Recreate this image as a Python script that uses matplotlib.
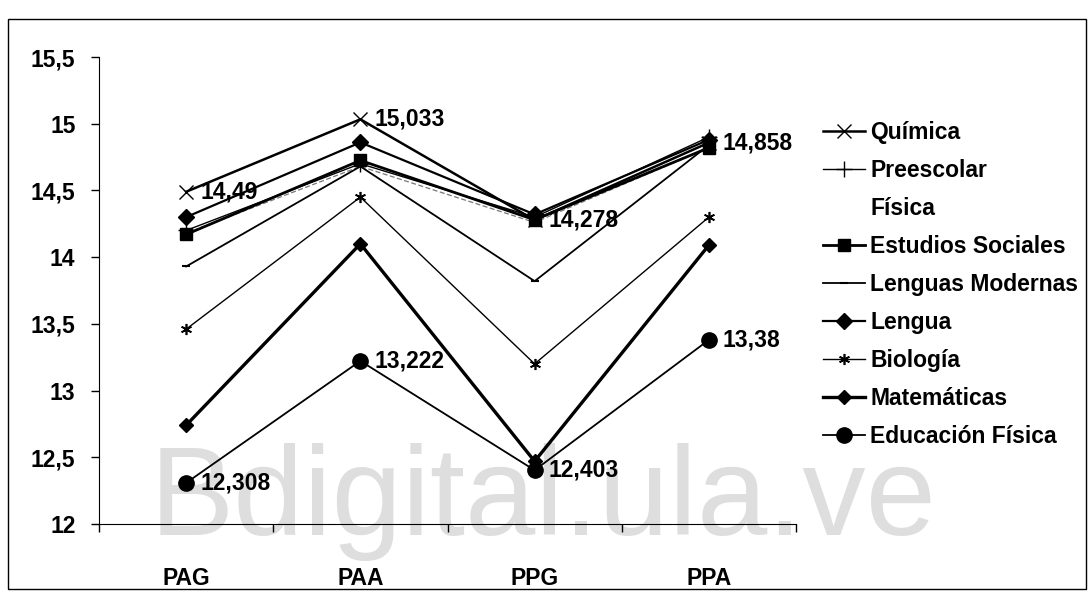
import matplotlib.pyplot as plt
import matplotlib.ticker as mticker
from matplotlib.patches import Rectangle

plt.rcParams['font.family'] = ['Liberation Sans', 'DejaVu Sans']

periodos = ["PAG", "PAA", "PPG", "PPA"]

quimica = [14.49, 15.033, 14.278, 14.858]
preescolar = [14.20, 14.70, 14.30, 14.90]
fisica = [14.18, 14.68, 14.26, 14.82]
estudios_sociales = [14.17, 14.725, 14.28, 14.82]
lenguas_modernas = [13.93, 14.68, 13.82, 14.84]
lengua = [14.30, 14.86, 14.32, 14.88]
biologia = [13.46, 14.45, 13.20, 14.30]
matematicas = [12.74, 14.10, 12.47, 14.09]
educacion_fisica = [12.308, 13.222, 12.403, 13.38]

# series that carry value labels next to their points
etiquetas_quimica = ["14,49", "15,033", "14,278", "14,858"]
etiquetas_edfisica = ["12,308", "13,222", "12,403", "13,38"]

x = list(range(len(periodos)))
fs = 16.5

fig = plt.figure(figsize=(10.91, 5.92), dpi=100)
ax = fig.add_axes([99 / 1091, 1 - 524 / 592, (796 - 99) / 1091, (524 - 57) / 592])

# watermark, kept under the lines
ax.text(150 / 1091, 1 - 535 / 592, "Bdigital.ula.ve", fontsize=91, color="#dedede",
        ha="left", va="baseline", transform=fig.transFigure, clip_on=False, zorder=0)

series = [
    ("Química", quimica, dict(marker="x", ms=10, mew=1.0, lw=1.8)),
    ("Preescolar", preescolar, dict(marker="+", ms=12, mew=1.0, lw=1.0)),
    ("Física", fisica, dict(marker="", lw=0.9, ls=(0, (4, 2)), color="#777777")),
    ("Estudios Sociales", estudios_sociales, dict(marker="s", ms=9, lw=2.0)),
    ("Lenguas Modernas", lenguas_modernas, dict(marker="_", ms=6, mew=1.5, lw=1.3)),
    ("Lengua", lengua, dict(marker="D", ms=8, lw=1.6)),
    ("Biología", biologia, dict(marker=(6, 2, 0), ms=8, mew=1.2, lw=1.0)),
    ("Matemáticas", matematicas, dict(marker="D", ms=7, lw=2.4)),
    ("Educación Física", educacion_fisica, dict(marker="o", ms=11, lw=1.3)),
]

for nombre, valores, estilo in series:
    estilo.setdefault("color", "black")
    ax.plot(x, valores, label=nombre, zorder=3, **estilo)

for xi, v, t in zip(x, quimica, etiquetas_quimica):
    ax.annotate(t, (xi, v), xytext=(10, 0), textcoords="offset points",
                va="center", ha="left", fontsize=fs, fontweight="bold", zorder=4)
for xi, v, t in zip(x, educacion_fisica, etiquetas_edfisica):
    ax.annotate(t, (xi, v), xytext=(10, 0), textcoords="offset points",
                va="center", ha="left", fontsize=fs, fontweight="bold", zorder=4)

ax.set_xlim(-0.5, len(periodos) - 0.5)
ax.set_ylim(12, 15.5)
ax.yaxis.set_major_locator(mticker.MultipleLocator(0.5))
ax.yaxis.set_major_formatter(mticker.FuncFormatter(lambda v, p: f"{v:g}".replace(".", ",")))

ax.set_xticks([i - 0.5 for i in range(len(periodos) + 1)])
ax.set_xticklabels([])
ax.set_xticks(x, minor=True)
ax.set_xticklabels(periodos, minor=True)
ax.tick_params(axis="x", which="minor", length=0, pad=31, labelsize=fs)
ax.tick_params(axis="x", which="major", length=6, width=1, direction="out")
ax.tick_params(axis="y", length=6, width=1, direction="out", pad=11, labelsize=fs)
for lbl in ax.get_xticklabels(minor=True) + ax.get_yticklabels():
    lbl.set_fontweight("bold")

ax.spines["top"].set_visible(False)
ax.spines["right"].set_visible(False)
ax.patch.set_alpha(0)

leg = fig.legend(loc="upper left", bbox_to_anchor=(812 / 1091, 1 - 110 / 592),
                 frameon=False, fontsize=fs, handlelength=1.8, handletextpad=0.25,
                 labelspacing=0.65, borderpad=0)
for txt in leg.get_texts():
    txt.set_fontweight("bold")
leg.legend_handles[2].set_visible(False)

# outer frame around the whole chart
fig.patches.append(Rectangle((8 / 1091, 1 - 589 / 592), (1086 - 8) / 1091, (589 - 19) / 592,
                             transform=fig.transFigure, fill=False, ec="black", lw=1.0))

fig.savefig("out.png", dpi=100)
